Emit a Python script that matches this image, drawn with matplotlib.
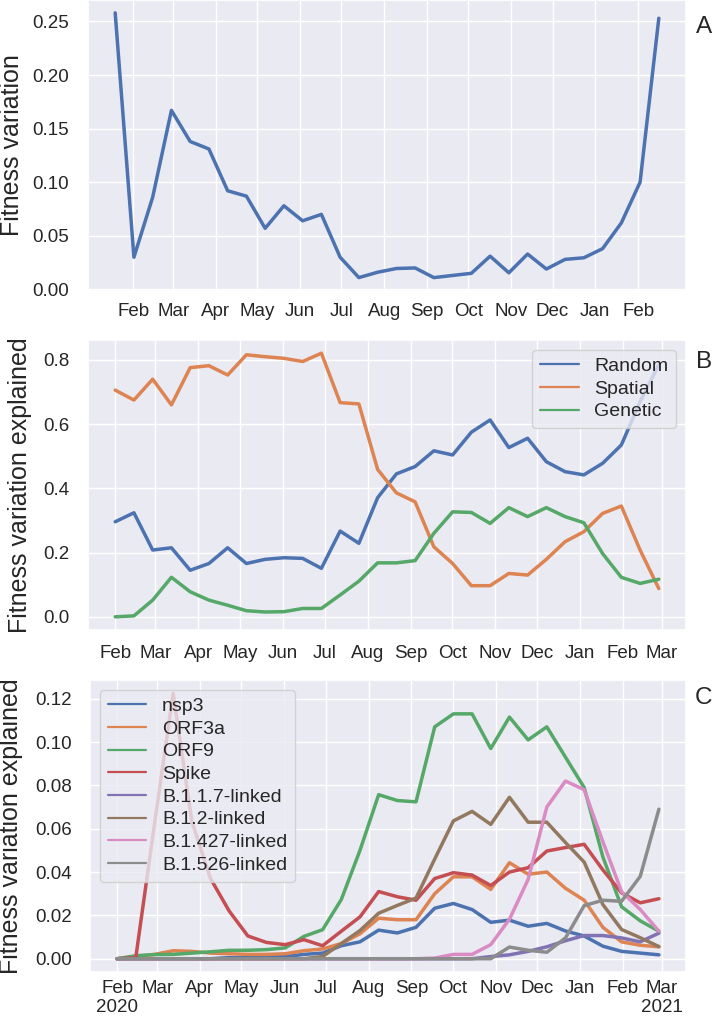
import numpy as np
import pandas as pd
import matplotlib
matplotlib.use('Agg')
import matplotlib.pyplot as plt
import seaborn as sns

# === DATA ===
# panel A: total fitness variation
dates_a = pd.date_range('2020-01-19', '2021-02-16', periods=30)
fitness_var = [0.258, 0.030, 0.086, 0.167, 0.138, 0.131, 0.092, 0.087, 0.057, 0.078,
               0.064, 0.070, 0.030, 0.011, 0.016, 0.0195, 0.020, 0.011, 0.013, 0.015,
               0.031, 0.0155, 0.033, 0.019, 0.028, 0.0295, 0.038, 0.062, 0.100, 0.253]

# panel B / C time points
dates_bc = pd.date_range('2020-02-01', '2021-02-27', periods=30)

# panel B: fraction explained by component
random_part = [0.296, 0.324, 0.208, 0.215, 0.145, 0.166, 0.215, 0.166, 0.179, 0.184,
               0.182, 0.151, 0.267, 0.229, 0.371, 0.445, 0.468, 0.517, 0.504, 0.575,
               0.613, 0.527, 0.556, 0.483, 0.452, 0.442, 0.478, 0.535, 0.670, 0.785]
spatial_part = [0.706, 0.675, 0.740, 0.660, 0.776, 0.782, 0.753, 0.816, 0.810, 0.805,
                0.795, 0.821, 0.667, 0.663, 0.459, 0.386, 0.358, 0.218, 0.166, 0.097,
                0.097, 0.135, 0.130, 0.179, 0.234, 0.265, 0.322, 0.345, 0.208, 0.088]
genetic_part = [0.000, 0.003, 0.052, 0.123, 0.078, 0.052, 0.036, 0.019, 0.015, 0.016,
                0.026, 0.026, 0.068, 0.111, 0.168, 0.168, 0.175, 0.260, 0.327, 0.325,
                0.291, 0.340, 0.312, 0.340, 0.312, 0.293, 0.197, 0.123, 0.104, 0.117]

# panel C: fraction explained by genetic feature
nsp3 = [0, 0, 0, 0, 0, 0, 0.0005, 0.0005, 0.001, 0.001,
        0.002, 0.0026, 0.006, 0.0078, 0.0132, 0.0119, 0.0145, 0.0233, 0.0255, 0.0227,
        0.0168, 0.0178, 0.015, 0.0163, 0.0128, 0.0105, 0.0058, 0.0034, 0.0026, 0.0018]
orf3a = [0, 0.001, 0.002, 0.0037, 0.0034, 0.0026, 0.0023, 0.002, 0.002, 0.0023,
         0.0037, 0.0045, 0.007, 0.0115, 0.0187, 0.018, 0.018, 0.030, 0.0378, 0.0378,
         0.032, 0.0443, 0.039, 0.040, 0.0325, 0.027, 0.0145, 0.0078, 0.0062, 0.0055]
orf9 = [0, 0.0014, 0.0019, 0.002, 0.0026, 0.0032, 0.0039, 0.0039, 0.0042, 0.005,
        0.0103, 0.0134, 0.0273, 0.050, 0.0757, 0.073, 0.0724, 0.107, 0.113, 0.113,
        0.097, 0.1115, 0.101, 0.107, 0.093, 0.079, 0.047, 0.024, 0.0175, 0.0127]
spike = [0, 0.0005, 0.062, 0.1225, 0.0635, 0.037, 0.022, 0.0105, 0.0075, 0.0065,
         0.0088, 0.006, 0.0127, 0.0193, 0.031, 0.0286, 0.027, 0.037, 0.0397, 0.0386,
         0.0338, 0.040, 0.042, 0.0497, 0.0513, 0.0528, 0.041, 0.0304, 0.0258, 0.0277]
b117 = [0, 0, 0, 0, 0, 0, 0, 0, 0, 0,
        0, 0, 0, 0, 0, 0, 0, 0, 0, 0,
        0.001, 0.0018, 0.0034, 0.0055, 0.0083, 0.0107, 0.0107, 0.0096, 0.0078, 0.0118]
b12 = [0, 0, 0, 0, 0, 0, 0, 0, 0, 0,
       0, 0.001, 0.007, 0.013, 0.021, 0.0246, 0.028, 0.046, 0.0636, 0.068,
       0.062, 0.0745, 0.063, 0.063, 0.0536, 0.0446, 0.025, 0.0135, 0.0097, 0.0056]
b1427 = [0, 0, 0, 0, 0, 0, 0, 0, 0, 0,
         0, 0, 0, 0, 0, 0, 0, 0.0003, 0.002, 0.002,
         0.0065, 0.0182, 0.0366, 0.070, 0.082, 0.078, 0.054, 0.031, 0.0227, 0.0127]
b1526 = [0, 0, 0, 0, 0, 0, 0, 0, 0, 0,
         0, 0, 0, 0, 0, 0, 0, 0, 0, 0,
         0, 0.0054, 0.0039, 0.003, 0.0096, 0.0245, 0.027, 0.0265, 0.038, 0.069]

labels_b = ['Random', 'Spatial', 'Genetic']
labels_c = ['nsp3', 'ORF3a', 'ORF9', 'Spike', 'B.1.1.7-linked',
            'B.1.2-linked', 'B.1.427-linked', 'B.1.526-linked']

ticks_a = pd.date_range('2020-02-01', '2021-02-01', freq='MS')
ticks_bc = pd.date_range('2020-02-01', '2021-03-01', freq='MS')

# === STYLE ===
sns.set_theme(style='darkgrid')
plt.rcParams['font.family'] = ['Liberation Sans', 'DejaVu Sans']

W, H = 713, 1024
fig = plt.figure(figsize=(W / 100, H / 100), dpi=100)

def box(left, top, right, bottom):
    return [left / W, 1 - bottom / H, (right - left) / W, (bottom - top) / H]

ax1 = fig.add_axes(box(88, 0, 686, 291))
ax2 = fig.add_axes(box(88, 340, 686, 630))
ax3 = fig.add_axes(box(90, 680, 686, 972))

LW = 2.5
pal = sns.color_palette('deep')

# --- A ---
ax1.plot(dates_a, fitness_var, color=pal[0], lw=LW)
ax1.set_ylim(-0.0015, 0.270)
ax1.set_xticks(ticks_a)
ax1.set_xticklabels([d.strftime('%b') for d in ticks_a])
ax1.set_ylabel('Fitness variation', fontsize=18)
ax1.yaxis.set_label_coords(-0.107, 0.5)
ax1.tick_params(axis='x', length=0, pad=9, labelsize=13.5)
ax1.tick_params(axis='y', length=0, pad=14, labelsize=13.5)

# --- B ---
for vals, lab, c in zip([random_part, spatial_part, genetic_part], labels_b, pal):
    ax2.plot(dates_bc, vals, color=c, lw=LW, label=lab)
ax2.set_xticks(ticks_bc)
ax2.set_xticklabels([d.strftime('%b') for d in ticks_bc])
ax2.set_ylabel('Fitness variation explained', fontsize=18)
ax2.yaxis.set_label_coords(-0.094, 0.5)
ax2.tick_params(axis='x', length=0, pad=10.5, labelsize=13.5)
ax2.tick_params(axis='y', length=0, pad=13.5, labelsize=13.5)
leg2 = ax2.legend(loc='upper right', fontsize=14, labelspacing=0.26)
for h in leg2.get_lines():
    h.set_linewidth(1.6)

# --- C ---
series_c = [nsp3, orf3a, orf9, spike, b117, b12, b1427, b1526]
for vals, lab, c in zip(series_c, labels_c, pal):
    ax3.plot(dates_bc, vals, color=c, lw=LW, label=lab)
ax3.set_xticks(ticks_bc)
xl = [d.strftime('%b') for d in ticks_bc]
xl[0] = 'Feb\n2020'
xl[-1] = 'Mar\n2021'
ax3.set_xticklabels(xl)
ax3.set_ylabel('Fitness variation explained', fontsize=18)
ax3.yaxis.set_label_coords(-0.112, 0.5)
ax3.tick_params(axis='x', length=0, pad=5.5, labelsize=13.5)
ax3.tick_params(axis='y', length=0, pad=13, labelsize=13.5)
leg3 = ax3.legend(loc='upper left', fontsize=14, labelspacing=0.26)
for h in leg3.get_lines():
    h.set_linewidth(1.6)

# panel letters
for letter, y in zip('ABC', [27, 362, 698]):
    fig.text(704 / W, 1 - y / H, letter, fontsize=17.5, ha='center', va='center')

fig.savefig('out.png', dpi=100)
